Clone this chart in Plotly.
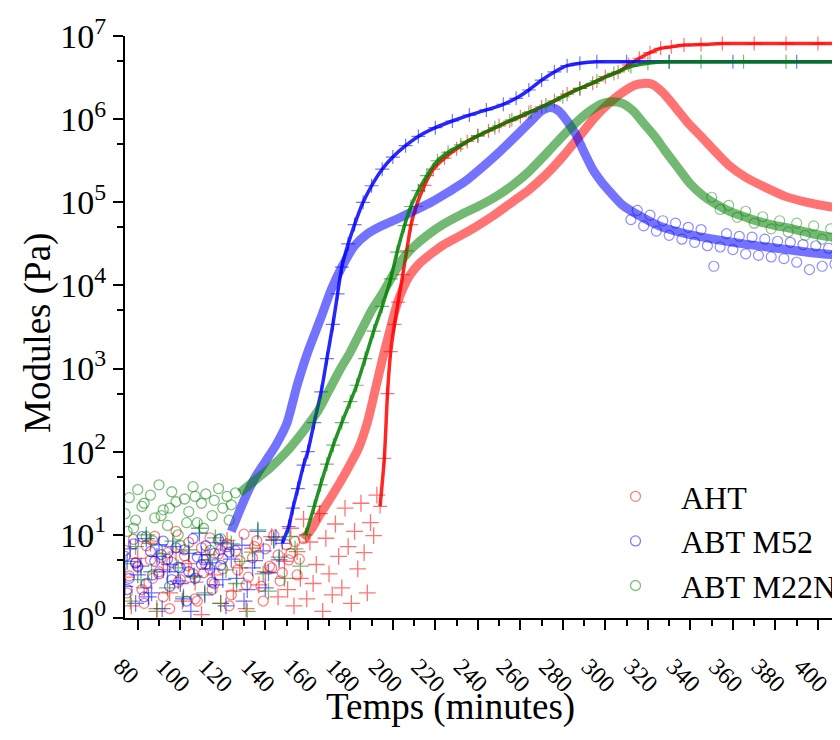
import plotly.graph_objects as go

# ---------------- data ----------------
# AHT  G' (crosses)
aht_gp_noise_x = [74, 77, 80, 83, 86, 89, 92, 95, 98, 101, 104, 107, 110, 113, 116, 119, 122, 125, 128, 131,
                  134, 137, 140, 143, 146, 149, 150.5, 152, 153.5, 155, 156.5, 158, 159.5, 161, 162.5, 164,
                  165.5, 167, 168.5, 170, 171.5, 173, 174.5, 176, 177.5, 179, 180.5, 182, 183.5, 185, 186.5,
                  188, 189.5, 191, 192.5]
aht_gp_noise_y = [3.1, 1.4, 5.2, 2.3, 7.9, 1.2, 3.8, 2.0, 6.2, 1.6, 4.5, 2.7, 1.1, 5.8, 3.3, 1.5, 8.6, 2.1, 4.0, 1.3,
                  6.9, 2.5, 3.6, 9.5, 1.8, 4.8, 2.2, 12.0, 1.4, 6.3, 3.0, 15.5, 1.7, 8.2, 2.6, 4.4, 18.0, 1.2,
                  9.1, 3.4, 1.9, 13.5, 5.5, 2.3, 21.0, 7.2, 1.5, 11.0, 3.9, 24.0, 6.1, 2.0, 14.0, 9.8, 30.0]
aht_gp_x = [194, 196, 197.5, 199, 200.8, 202.5, 204.7, 206.5, 208.6, 211, 214.9, 219, 224.3, 230, 235, 240, 245,
            250, 255, 260, 265, 270, 276, 282, 288, 294, 300, 306, 311, 316, 321, 326, 331, 337, 345, 355, 370,
            385, 400, 411]
aht_gp_y = [22, 83, 500, 1600, 3400, 6300, 13500, 26000, 54000, 89000, 1.6e5, 2.5e5, 3.4e5, 4.4e5, 5.4e5, 6.3e5,
            7.2e5, 8.3e5, 9.5e5, 1.07e6, 1.23e6, 1.41e6, 1.66e6, 2.0e6, 2.34e6, 2.7e6, 3.24e6, 3.7e6, 4.5e6,
            5.4e6, 6.3e6, 7.1e6, 7.4e6, 7.8e6, 7.9e6, 8.1e6, 8.1e6, 8.1e6, 8.1e6, 8.1e6]
# AHT  G'' (circles)
aht_gpp_noise_x = [74, 76, 78, 80, 82, 84, 86, 88, 90, 92, 94, 96, 98, 100, 102, 104, 106, 108, 110, 112, 114,
                   116, 118, 120, 122, 124, 126, 128, 130, 132, 134, 136, 138, 140, 142, 144, 146, 148, 150, 152,
                   154, 156, 158, 75, 79, 83, 87, 91, 95, 99, 103, 107, 111, 115, 119, 123, 127, 131, 135, 139,
                   143, 147, 151, 155]
aht_gpp_noise_y = [6.5, 3.2, 8.8, 4.1, 2.2, 7.4, 5.0, 9.6, 3.6, 1.8, 6.1, 4.7, 11.0, 2.9, 5.6, 8.1, 3.4, 1.6, 7.0,
                   4.4, 9.2, 2.6, 5.9, 3.9, 7.8, 1.9, 6.4, 4.9, 10.2, 3.1, 5.3, 8.5, 2.4, 6.8, 4.2, 9.9, 5.7, 3.5,
                   7.6, 6.0, 8.3, 5.1, 9.0, 2.0, 4.6, 1.5, 3.0, 5.3, 1.3, 2.7, 4.3, 1.7, 3.5, 2.2, 6.6, 1.4, 3.8,
                   2.5, 7.2, 1.6, 4.0, 2.8, 5.0, 3.3]
aht_gpp_x = [158, 162, 166, 170, 175, 180, 184, 188, 191.5, 195, 199, 202, 205, 208, 212, 218, 224, 232, 240, 248,
             256, 264, 272, 280, 288, 295, 302, 308, 314, 318, 322, 327, 333, 339, 345, 352, 358, 366, 376, 385,
             395, 405, 411]
aht_gpp_y = [8.9, 12, 18, 26, 42, 71, 112, 224, 525, 1260, 3160, 6000, 9500, 13200, 17800, 24000, 31000, 40000,
             52500, 71000, 1.0e5, 1.41e5, 2.14e5, 3.55e5, 6.3e5, 1.05e6, 1.58e6, 2.09e6, 2.57e6, 2.69e6, 2.63e6,
             2.09e6, 1.38e6, 8.9e5, 6.2e5, 4.0e5, 2.8e5, 2.0e5, 1.48e5, 1.17e5, 1.0e5, 8.9e4, 8.5e4]

# ABT M52  G'
m52_gp_noise_x = [74, 76.5, 79, 81.5, 84, 86.5, 89, 91.5, 94, 96.5, 99, 101.5, 104, 106.5, 109, 111.5, 114, 116.5,
                  119, 121.5, 124, 126.5, 129, 131.5, 134, 136.5, 139, 141.5, 144, 146.5, 75, 80, 85, 90, 95,
                  100, 105, 110, 115, 120, 125, 130, 135, 140, 145]
m52_gp_noise_y = [2.4, 6.8, 1.5, 4.2, 9.0, 2.0, 5.5, 1.3, 3.6, 7.2, 2.8, 1.7, 6.0, 3.2, 10.5, 1.9, 4.6, 2.5, 8.0,
                  1.4, 5.1, 3.0, 7.5, 2.2, 4.0, 11.0, 6.4, 3.5, 8.6, 5.0, 4.8, 3.3, 1.8, 7.6, 4.4, 2.6, 1.2,
                  5.8, 3.9, 2.9, 6.7, 1.6, 4.9, 2.3, 9.4]
m52_gp_x = [148, 151, 153, 155.3, 158, 160, 163, 166.3, 169, 171.8, 174, 176, 179, 182, 186, 190, 195, 200, 206,
            212, 220, 228, 236, 244, 252, 258, 264, 270, 276, 282, 288, 296, 310, 330, 360, 390, 411]
m52_gp_y = [7.9, 12.6, 21, 36, 69, 100, 224, 525, 1320, 3400, 7900, 16600, 31600, 54000, 1.0e5, 1.58e5, 2.5e5,
            3.5e5, 4.8e5, 6.2e5, 7.9e5, 9.5e5, 1.12e6, 1.29e6, 1.51e6, 1.78e6, 2.24e6, 2.95e6, 3.7e6, 4.4e6,
            4.7e6, 4.9e6, 4.9e6, 4.9e6, 4.9e6, 4.9e6, 4.9e6]
# ABT M52  G''
m52_gpp_noise_x = [74, 76, 78, 80, 82, 84, 86, 88, 90, 92, 94, 96, 98, 100, 102, 104, 106, 108, 110, 112, 114,
                   116, 118, 120, 122, 75, 79, 83, 87, 91, 95, 99, 103, 107, 111, 115, 119, 123]
m52_gpp_noise_y = [5.5, 3.0, 7.8, 4.2, 9.5, 2.6, 6.3, 4.8, 3.4, 8.4, 5.1, 2.9, 7.0, 4.0, 6.6, 3.6, 9.0, 5.4, 4.4,
                   7.4, 3.9, 6.0, 8.8, 5.2, 7.2, 2.2, 4.6, 1.8, 3.3, 5.8, 2.4, 4.1, 1.6, 3.0, 5.0, 2.7, 4.3, 6.2]
m52_gpp_x = [124, 130, 135, 140, 145, 150, 155, 160, 166, 171, 176, 182, 188, 195, 202, 210, 218, 226, 234, 242,
             250, 258, 265, 270, 274, 278, 282, 286, 290, 294, 298, 302, 308, 316, 325, 335, 350, 365, 380, 395, 411]
m52_gpp_y = [11, 26, 48, 76, 120, 214, 630, 1580, 3980, 8900, 16600, 30000, 41700, 52500, 63000, 79000, 1.0e5,
             1.32e5, 1.78e5, 2.63e5, 4.0e5, 6.3e5, 9.5e5, 1.26e6, 1.38e6, 1.26e6, 9.5e5, 6.6e5, 4.0e5, 2.5e5,
             1.78e5, 1.35e5, 93000, 69000, 52500, 43600, 36300, 31600, 28200, 25100, 22900]
m52_gpp_tail_x = [312, 315, 318, 321, 324, 327, 330, 333, 336, 339, 342, 345, 348, 351, 354, 357, 360, 363, 366,
                  369, 372, 375, 378, 381, 384, 387, 390, 393, 396, 399, 402, 405, 408, 411]
m52_gpp_tail_y = [62000, 80000, 52000, 70000, 45000, 60000, 40000, 56000, 36000, 50000, 33000, 47000, 30000, 17000,
                  29000, 42000, 27000, 39000, 24000, 38000, 23000, 36000, 22000, 34000, 21000, 33000, 19000, 31000,
                  15500, 30000, 17000, 28000, 18000, 27000]

# ABT M22N  G'
m22_gp_noise_x = [74, 76.5, 79, 81.5, 84, 86.5, 89, 91.5, 94, 96.5, 99, 101.5, 104, 106.5, 109, 111.5, 114, 116.5,
                  119, 121.5, 124, 126.5, 129, 131.5, 134, 136.5, 139, 141.5, 144, 146.5, 149, 151.5, 154, 156.5]
m22_gp_noise_y = [4.5, 1.6, 7.2, 2.9, 10.0, 3.6, 1.3, 5.9, 2.3, 8.4, 4.0, 1.8, 6.6, 3.1, 12.0, 2.0, 5.0, 9.2, 1.5,
                  3.8, 7.8, 2.6, 4.8, 1.2, 6.2, 11.5, 3.4, 2.1, 8.8, 5.4, 3.0, 9.6, 6.8, 4.2]
m22_gp_x = [159, 163, 166, 169, 172, 176, 180, 183, 187, 191, 195, 199, 202, 205.5, 208.5, 212, 216, 221, 226, 232,
            240, 248, 256, 264, 272, 280, 288, 296, 304, 312, 320, 330, 345, 365, 385, 411]
m22_gp_y = [10, 22, 40, 71, 120, 224, 400, 630, 1320, 2820, 5600, 12000, 25100, 52500, 89000, 1.38e5, 2.09e5,
            3.16e5, 4.0e5, 4.9e5, 6.3e5, 7.9e5, 9.8e5, 1.2e6, 1.48e6, 1.86e6, 2.34e6, 2.88e6, 3.55e6, 4.3e6,
            4.7e6, 4.9e6, 4.9e6, 4.9e6, 4.9e6, 4.9e6]
# ABT M22N  G''
m22_gpp_noise_x = [74, 76, 78, 80, 82, 84, 86, 88, 90, 92, 94, 96, 98, 100, 102, 104, 106, 108, 110, 112, 114,
                   116, 118, 120, 122, 124, 126, 75, 79, 83, 87, 91, 95, 99, 103, 107, 111, 115, 119, 123]
m22_gpp_noise_y = [18, 28, 12, 35, 22, 9.5, 30, 16, 40, 20, 13, 33, 25, 7.5, 27, 19, 38, 14, 24, 31, 6.5, 26, 36,
                   21, 29, 23, 32, 11, 15, 24, 8.5, 17, 21, 10, 14, 29, 12, 17, 9, 15]
m22_gpp_x = [128, 135, 142, 150, 158, 165, 170, 175, 180, 185, 190, 195, 200, 205, 210, 216, 224, 232, 240, 248,
             256, 264, 272, 280, 288, 294, 299, 303, 308, 313, 318, 323, 328, 334, 340, 346, 352, 358, 364, 372,
             380, 388, 396, 404, 411]
m22_gpp_y = [32, 45, 63, 100, 178, 316, 550, 955, 1580, 2820, 5000, 7900, 13200, 21400, 29500, 39800, 55000,
             71000, 89000, 1.15e5, 1.58e5, 2.34e5, 3.8e5, 6.3e5, 1.0e6, 1.32e6, 1.55e6, 1.62e6, 1.55e6, 1.26e6,
             8.9e5, 6.3e5, 4.2e5, 2.63e5, 1.66e5, 1.2e5, 95000, 79000, 69000, 59000, 52500, 48000, 42700, 38900,
             37200]
m22_gpp_tail_x = [350, 354, 358, 362, 366, 370, 374, 378, 382, 386, 390, 394, 398, 402, 406, 409, 411]
m22_gpp_tail_y = [115000, 82000, 92000, 66000, 78000, 56000, 67000, 48000, 60000, 44000, 56000, 40000, 52000,
                  36000, 48000, 34000, 45000]

sample_names = ["AHT", "ABT M52", "ABT M22N"]
y_tickvals = [1, 10, 100, 1e3, 1e4, 1e5, 1e6, 1e7]
y_ticktext = ["10<sup>%d</sup>" % i for i in range(8)]
y_minorvals = [5, 50, 500, 5e3, 5e4, 5e5, 5e6]

# ---------------- figure ----------------
FONT = "Liberation Serif"
RED = (255, 0, 0)
BLUE = (0, 0, 255)
GREEN = (0, 128, 0)


def rgba(c, a):
    return "rgba(%d,%d,%d,%s)" % (c[0], c[1], c[2], a)


fig = go.Figure()


def add_sample(name, col, gp_nx, gp_ny, gp_x, gp_y, gpp_nx, gpp_ny, gpp_x, gpp_y, tail_x=None, tail_y=None):
    # G' : crosses
    fig.add_trace(go.Scatter(
        x=gp_nx, y=gp_ny, mode="markers", showlegend=False, hoverinfo="skip",
        marker=dict(symbol="cross-thin-open", size=12, color=rgba(col, 0.55),
                    line=dict(width=1.3, color=rgba(col, 0.55)))))
    fig.add_trace(go.Scatter(
        x=gp_x, y=gp_y, mode="lines+markers", showlegend=False, hoverinfo="skip",
        line=dict(color=rgba(col, 0.85), width=3.5, shape="spline", smoothing=0.7),
        marker=dict(symbol="cross-thin-open", size=10, color=rgba(col, 0.55),
                    line=dict(width=1.2, color=rgba(col, 0.55)))))
    # G'' : open circles
    fig.add_trace(go.Scatter(
        x=gpp_nx, y=gpp_ny, mode="markers", name=name, showlegend=True, hoverinfo="skip",
        marker=dict(symbol="circle-open", size=10, color=rgba(col, 0.5),
                    line=dict(width=1.3, color=rgba(col, 0.5)))))
    fig.add_trace(go.Scatter(
        x=gpp_x, y=gpp_y, mode="lines", showlegend=False, hoverinfo="skip",
        line=dict(color=rgba(col, 0.55), width=9, shape="spline", smoothing=0.7)))
    if tail_x is not None:
        fig.add_trace(go.Scatter(
            x=tail_x, y=tail_y, mode="markers", showlegend=False, hoverinfo="skip",
            marker=dict(symbol="circle-open", size=10, color=rgba(col, 0.45),
                        line=dict(width=1.2, color=rgba(col, 0.45)))))


add_sample(sample_names[0], RED, aht_gp_noise_x, aht_gp_noise_y, aht_gp_x, aht_gp_y,
           aht_gpp_noise_x, aht_gpp_noise_y, aht_gpp_x, aht_gpp_y)
add_sample(sample_names[1], BLUE, m52_gp_noise_x, m52_gp_noise_y, m52_gp_x, m52_gp_y,
           m52_gpp_noise_x, m52_gpp_noise_y, m52_gpp_x, m52_gpp_y, m52_gpp_tail_x, m52_gpp_tail_y)
add_sample(sample_names[2], GREEN, m22_gp_noise_x, m22_gp_noise_y, m22_gp_x, m22_gp_y,
           m22_gpp_noise_x, m22_gpp_noise_y, m22_gpp_x, m22_gpp_y, m22_gpp_tail_x, m22_gpp_tail_y)

L, R, T, B = 117, 2, 28, 130
W, H = 840, 740
PW = W - L - R
PH = H - T - B

fig.update_layout(
    width=W, height=H,
    margin=dict(l=L, r=R, t=T, b=B, autoexpand=False),
    paper_bgcolor="white", plot_bgcolor="white",
    font=dict(family=FONT, color="black"),
    showlegend=True,
    legend=dict(x=(582 - L) / PW, y=(610 - 461) / PH, xanchor="left", yanchor="top",
                font=dict(family=FONT, size=32, color="black"), bgcolor="rgba(0,0,0,0)",
                itemwidth=81, tracegroupgap=0),
    xaxis=dict(range=[74, 413.2], tick0=80, dtick=20, ticks="outside", ticklen=10, tickwidth=2,
               tickcolor="black", showline=True, linewidth=2, linecolor="black", showgrid=False,
               zeroline=False, tickangle=45, tickfont=dict(family=FONT, size=24, color="black"),
               ticklabelshift=-17, ticklabelstandoff=13, ticklabeloverflow="allow",
               minor=dict(tick0=80, dtick=10, ticks="outside", ticklen=6, tickwidth=2, tickcolor="black")),
    yaxis=dict(type="log", range=[0, 7], tickmode="array", tickvals=y_tickvals, ticktext=y_ticktext,
               ticks="outside", ticklen=10, tickwidth=2, tickcolor="black", showline=True, linewidth=2,
               linecolor="black", showgrid=False, zeroline=False,
               tickfont=dict(family=FONT, size=34, color="black"),
               minor=dict(tickmode="array", tickvals=y_minorvals, ticks="outside", ticklen=6, tickwidth=2,
                          tickcolor="black")),
    annotations=[
        dict(text="Temps (minutes)", xref="paper", yref="paper", x=(442 - L) / PW, y=(610 - 699) / PH,
             xanchor="center", yanchor="middle", showarrow=False, font=dict(family=FONT, size=37, color="black")),
        dict(text="Modules (Pa)", xref="paper", yref="paper", x=(30 - L) / PW, y=(610 - 325) / PH,
             xanchor="center", yanchor="middle", textangle=-90, showarrow=False,
             font=dict(family=FONT, size=37, color="black")),
    ],
)

fig.write_html("out.html")
